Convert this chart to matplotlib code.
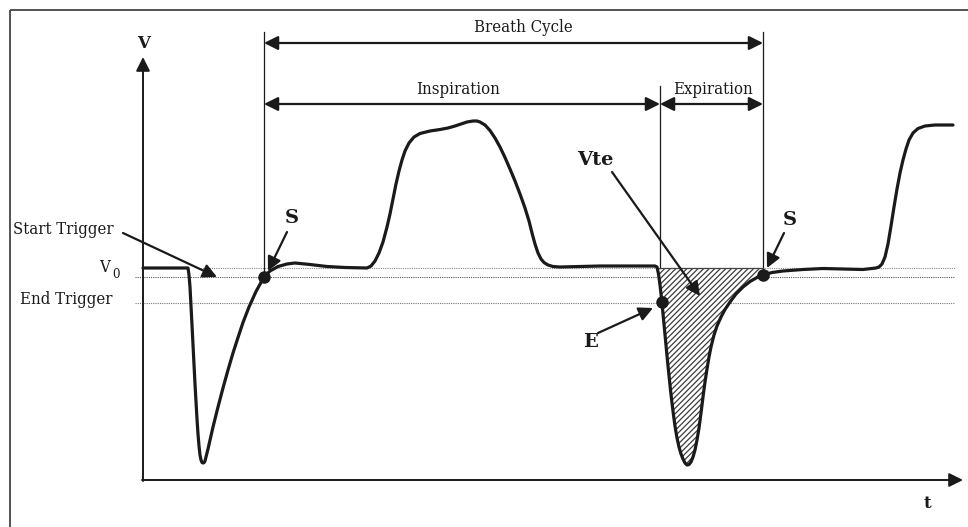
import numpy as np
import matplotlib
matplotlib.use("Agg")
import matplotlib.pyplot as plt

plt.rcParams['font.family'] = ['DejaVu Serif', 'DejaVu Sans']
plt.rcParams['hatch.linewidth'] = 0.9

# volume trace, as (t, V) in drawing units
# (origin at the corner of the t and V axes)
trace = [
    (0, 212), (17, 212), (32, 212), (45, 212),
    # first expiration dip
    (46, 205), (47, 193), (48, 175), (49, 155), (50, 135), (51, 115), (52, 96), (53, 78),
    (54, 61), (55, 46), (56, 34), (57, 25), (58, 20), (59, 17.5), (60, 17), (61, 17.3),
    (62, 19), (63, 23), (65, 31), (67, 40), (70, 53), (75, 73), (80, 92), (85, 110),
    (90, 127), (95, 142.5), (100, 157.5), (106, 173), (113, 188.5), (121, 203),
    (127, 209), (135, 213.5), (144, 216), (152, 217), (167, 215.5), (184, 213.5),
    (202, 212.5), (224, 212),
    # inspiration
    (228, 214), (232, 219), (236, 227), (240, 238), (244, 253), (247, 266), (250, 281),
    (253, 296), (256, 309), (259, 320), (262, 329), (266, 337), (271, 343), (277, 346.5),
    (287, 349), (297, 350.5), (305, 352), (312, 354), (318, 356), (324, 358), (330, 359),
    (334, 359), (337, 358), (342, 355), (347, 349.5), (352, 342), (357, 333), (362, 322.5),
    (367, 311), (372, 299), (377, 286), (382, 272), (386, 259), (389, 247), (392, 236),
    (395, 227), (398, 221), (401, 217.5), (405, 215), (410, 213.5), (417, 213),
    (457, 214), (497, 214), (512, 214),
    # second expiration dip
    (514, 213), (515.5, 206), (517, 195), (518.5, 182), (520, 166), (521.5, 150),
    (523, 134), (524.5, 119), (526, 104), (527.5, 90), (529, 77), (530.5, 65), (532, 54),
    (534, 42), (536, 33), (538, 26), (540, 21), (542, 17), (544, 15), (546, 15.5),
    (548, 18), (550, 23), (552, 30), (554, 40), (556, 52), (558, 67), (560, 83), (562, 98),
    (564, 111), (566, 123), (568, 133), (571, 145), (574, 154), (578, 163), (582, 170.5),
    (587, 178), (593, 186), (600, 193), (607, 198.5), (614, 202.5), (620, 205),
    (629, 207.5), (640, 209), (660, 210.5), (680, 211.5), (700, 211), (720, 210.5),
    (733, 212),
    # next inspiration
    (736, 213), (739, 216), (742, 223), (745, 236), (748, 254), (751, 273), (754, 291),
    (757, 307), (760, 320), (763, 331), (766, 340), (770, 347), (775, 351.5), (782, 354),
    (792, 355), (810, 355),
]

v0_level = 212
start_trigger = 203
end_trigger = 177

t_start1 = 121
t_end = 517
t_start2 = 620
s_points_v = [203, 205]
e_point = (519, 178)

t, v = np.array(trace, dtype=float).T

fig = plt.figure(figsize=(9.68, 5.27), dpi=100)
ax = fig.add_axes([0, 0, 1, 1])
ax.set_xlim(-143, 825)
ax.set_ylim(-47, 480)
ax.axis('off')

ink = '#1a1a1a'

# frame (left and top edges)
ax.plot([-133, -133], [-47, 470], color='#444444', lw=1.3, solid_capstyle='butt')
ax.plot([-133, 825], [470, 470], color='#444444', lw=1.3, solid_capstyle='butt')

# axes with arrows
head = '-|>,head_length=0.6,head_width=0.3'
ax.annotate('', xy=(0, 423), xytext=(0, -1),
            arrowprops=dict(arrowstyle=head, color=ink, lw=1.4, mutation_scale=14,
                            shrinkA=0, shrinkB=0))
ax.annotate('', xy=(820, 0), xytext=(-1, 0),
            arrowprops=dict(arrowstyle=head, color=ink, lw=1.4, mutation_scale=14,
                            shrinkA=0, shrinkB=0))
ax.text(1, 436, 'V', ha='center', va='center', fontsize=12, fontweight='bold', color=ink)
ax.text(784, -23, 't', ha='center', va='center', fontsize=12, fontweight='bold', color=ink)

# trigger levels
dot = (0, (1, 1))
ax.plot([55, 812], [v0_level, v0_level], color='#8a8a8a', lw=0.8, ls=dot)
ax.plot([-8, 812], [start_trigger, start_trigger], color='#555555', lw=0.8, ls=dot)
ax.plot([-8, 812], [end_trigger, end_trigger], color='#777777', lw=0.8, ls=dot)

# hatched expired volume
mask = (t >= t_end - 2) & (t <= t_start2)
ax.fill_between(t, v, v0_level, where=mask, interpolate=True, facecolor='white',
                edgecolor='#3c3c3c', hatch='//////', linewidth=0, zorder=2)
ax.plot([t_end, t_start2], [v0_level, v0_level], color='#444444', lw=0.9, zorder=3)

# event markers
ax.plot([t_start1, t_start1], [448, start_trigger], color=ink, lw=0.9)
ax.plot([t_end, t_end], [394, v0_level], color=ink, lw=0.9)
ax.plot([t_start2, t_start2], [448, v0_level], color=ink, lw=0.9)

# volume trace
ax.plot(t, v, color=ink, lw=2.3, solid_joinstyle='round', solid_capstyle='round', zorder=4)
ax.plot([t_start1, t_start2], s_points_v, 'o', color=ink, ms=8, zorder=5)
ax.plot([e_point[0]], [e_point[1]], 'o', color=ink, ms=8, zorder=5)

# cycle spans
span = dict(arrowstyle='<|-|>,head_length=0.6,head_width=0.3', color=ink, lw=1.6,
            mutation_scale=14, shrinkA=0, shrinkB=0)
ax.annotate('', xy=(t_start1, 437), xytext=(t_start2, 437), arrowprops=span)
ax.annotate('', xy=(t_start1, 376), xytext=(t_end, 376), arrowprops=span)
ax.annotate('', xy=(t_end, 376), xytext=(t_start2, 376), arrowprops=span)

txt = dict(fontsize=12, color=ink, fontstretch='condensed')
ax.text(380, 453, 'Breath Cycle', ha='center', va='center', **txt)
ax.text(315, 391, 'Inspiration', ha='center', va='center', **txt)
ax.text(570, 391, 'Expiration', ha='center', va='center', **txt)
ax.text(-130, 250, 'Start Trigger', ha='left', va='center', **txt)
ax.text(-123, 180, 'End Trigger', ha='left', va='center', **txt)
ax.text(-33, 213, 'V', ha='right', va='center', **txt)
ax.text(-31, 205, '0', ha='left', va='center', fontsize=8.5, color=ink)

# pointers
ptr = dict(arrowstyle=head, color=ink, lw=1.6, mutation_scale=14, shrinkA=0, shrinkB=0)
ax.annotate('', xy=(74, 203), xytext=(-20, 247), arrowprops=ptr)
ax.annotate('', xy=(125, 209), xytext=(144, 248), arrowprops=ptr)
ax.annotate('', xy=(557, 184), xytext=(469, 308), arrowprops=ptr)
ax.annotate('', xy=(510, 172), xytext=(455, 147), arrowprops=ptr)
ax.annotate('', xy=(624, 212), xytext=(641, 247), arrowprops=ptr)

bold = dict(fontsize=14, fontweight='bold', color=ink, ha='center', va='center')
ax.text(149, 262, 'S', **bold)
ax.text(647, 260, 'S', **bold)
ax.text(452, 320, 'Vte', **bold)
ax.text(447, 138, 'E', **bold)

fig.savefig('out.png', dpi=100)
